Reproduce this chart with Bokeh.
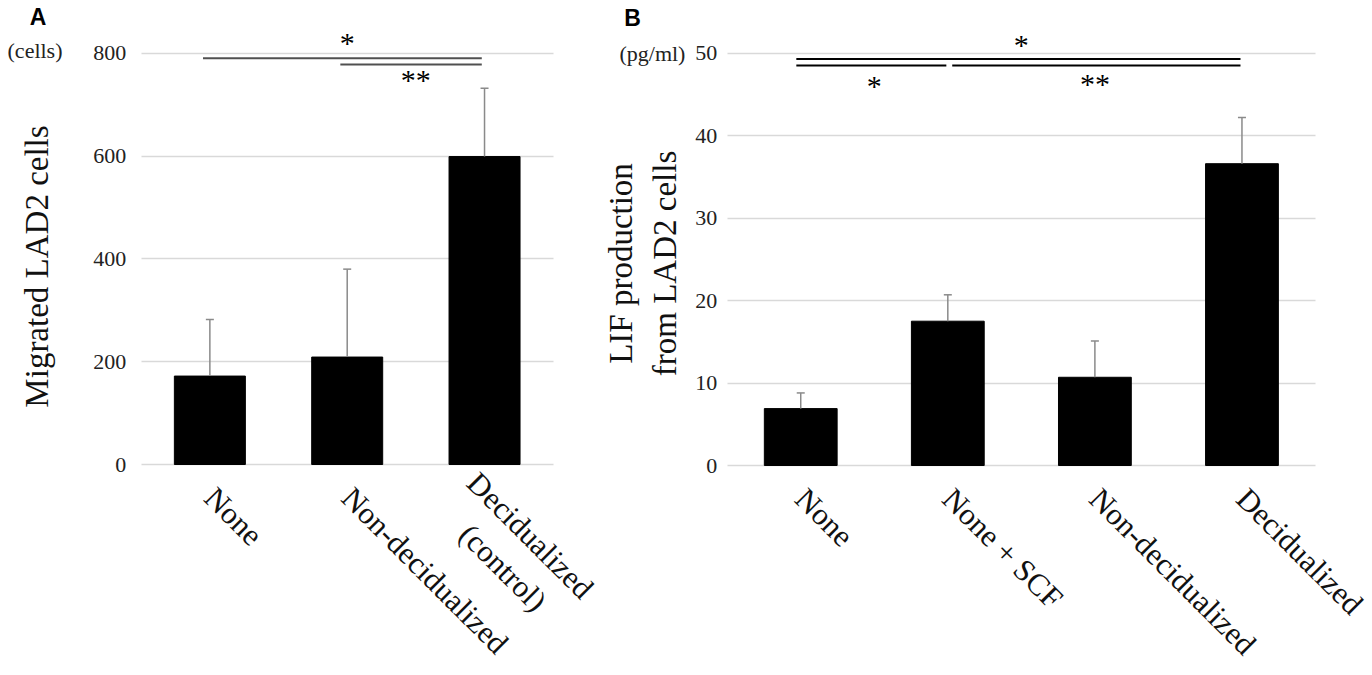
import math
from bokeh.plotting import figure
from bokeh.layouts import row
from bokeh.models import Range1d, FixedTicker, Label, ColumnDataSource, Grid
from bokeh.embed import file_html
from bokeh.resources import INLINE
from bokeh.core.properties import value

# ---------------- Panel A data ----------------
a_categories = ["None", "Non-decidualized",
                "Decidualized\n\u00a0\u00a0\u00a0\u00a0(control)"]
a_means = [172, 209, 599]
a_errors = [110, 171, 133]
a_ticks = [0, 200, 400, 600, 800]
a_sig_pairs = [(0, 2), (1, 2)]
a_sig_heights = [790, 778]
a_sig_marks = ["*", "**"]
a_sig_text_y = [821, 749]

# ---------------- Panel B data ----------------
b_categories = ["None", "None + SCF", "Non-decidualized", "Decidualized"]
b_means = [6.9, 17.5, 10.7, 36.6]
b_errors = [1.9, 3.2, 4.4, 5.6]
b_ticks = [0, 10, 20, 30, 40, 50]
b_sig_pairs = [(0, 3), (0, 1), (1, 3)]
b_sig_heights = [49.3, 48.5, 48.5]
b_sig_marks = ["*", "*", "**"]
b_sig_text_y = [51.1, 46.1, 46.3]

SERIF = "Liberation Serif"
SANS = "Liberation Sans"
HEIGHT = 675


def make_panel(cats, means, errs, ticks, width, frame_px, ylabel, unit,
               unit_xy, letter, letter_xy, pairs, heights, marks, mark_y,
               sig_color, start_off, end_off, bar_width, cap_size,
               tick_standoff, label_standoff, axis_bounds):
    """frame_px = (left, right, y_of_zero, y_of_top_tick) in canvas pixels."""
    n = len(cats)
    fl, fr, y0px, ytpx = frame_px
    xpu = (fr - fl) / n                      # pixels per category
    ypu = (y0px - ytpx) / ticks[-1]          # pixels per y unit
    x_start = -0.5 - fl / xpu
    x_end = n - 0.5 + (width - fr) / xpu
    y_end = ticks[-1] + ytpx / ypu
    y_start = -(HEIGHT - y0px) / ypu

    p = figure(width=width, height=HEIGHT, x_range=Range1d(x_start, x_end),
               y_range=Range1d(y_start, y_end), output_backend="svg",
               toolbar_location=None, min_border=0, min_border_left=0,
               min_border_right=0, min_border_top=0, min_border_bottom=0)
    p.outline_line_color = None
    p.background_fill_color = "white"
    p.border_fill_color = "white"

    # grid
    p.xgrid.grid_line_color = None
    if "cross_bounds" in Grid.properties():
        p.ygrid.ticker = FixedTicker(ticks=ticks)
        p.ygrid.bounds = (ticks[0], ticks[-1])
        p.ygrid.cross_bounds = (-0.5, n - 0.5)
        p.ygrid.grid_line_color = "#d9d9d9"
        p.ygrid.grid_line_width = 1.5
    else:
        p.ygrid.grid_line_color = None
        p.segment(x0=[-0.5] * len(ticks), x1=[n - 0.5] * len(ticks),
                  y0=ticks, y1=ticks, line_color="#d9d9d9", line_width=1.5)

    xs = list(range(n))
    src = ColumnDataSource(dict(x=xs, top=means,
                                up=[m + e for m, e in zip(means, errs)]))
    p.vbar(x="x", top="top", bottom=0, width=bar_width, source=src,
           fill_color="black", line_color="black")
    p.segment(x0="x", y0="top", x1="x", y1="up", source=src,
              line_color="#8a8a8a", line_width=1.5)
    p.scatter(x="x", y="up", source=src, marker="dash", size=cap_size,
              line_color="#8a8a8a", line_width=1.5)

    # significance bars
    x0s, x1s = [], []
    for (i, j) in pairs:
        x0s.append(i + (start_off[0] if i == 0 else start_off[1]))
        x1s.append(j + end_off)
    p.segment(x0=x0s, y0=heights, x1=x1s, y1=heights,
              line_color=sig_color, line_width=2)
    mids = [(i + j) / 2 for (i, j) in pairs]
    p.text(x=mids, y=mark_y, text=marks, text_font=value(SERIF),
           text_font_size="30px", text_align="center",
           text_baseline="middle", text_color="black")

    # y axis, drawn at the left edge of the bar area
    yax = p.yaxis[0]
    yax.fixed_location = -0.5
    yax.bounds = axis_bounds
    yax.ticker = FixedTicker(ticks=ticks)
    yax.axis_line_color = None
    yax.major_tick_line_color = None
    yax.minor_tick_line_color = None
    yax.major_label_text_font = SERIF
    yax.major_label_text_font_size = "22px"
    yax.major_label_text_color = "#222222"
    yax.major_label_standoff = tick_standoff
    yax.axis_label = ylabel
    yax.axis_label_text_font = SERIF
    yax.axis_label_text_font_size = "33px"
    yax.axis_label_text_font_style = "normal"
    yax.axis_label_text_color = "#111111"
    yax.axis_label_standoff = label_standoff

    # x axis, drawn at y = 0
    xax = p.xaxis[0]
    xax.fixed_location = 0
    xax.ticker = FixedTicker(ticks=xs)
    xax.major_label_overrides = {i: c for i, c in zip(xs, cats)}
    xax.axis_line_color = None
    xax.major_tick_line_color = None
    xax.minor_tick_line_color = None
    xax.major_label_text_font = SERIF
    xax.major_label_text_font_size = "31px"
    xax.major_label_text_color = "#111111"
    xax.major_label_orientation = -math.pi / 4
    xax.major_label_standoff = 22

    p.add_layout(Label(x=unit_xy[0], y=unit_xy[1], text=unit, text_font=SERIF,
                       text_font_size="22px", text_align="right",
                       text_baseline="middle", text_color="#222222"))
    p.add_layout(Label(x=letter_xy[0], y=letter_xy[1], text=letter,
                       text_font=SANS, text_font_size="23px",
                       text_font_style="bold", text_align="center",
                       text_baseline="top", text_color="black"))
    return p


pA = make_panel(a_categories, a_means, a_errors, a_ticks, 600,
                (140.7, 552.7, 464.0, 52.7), "Migrated LAD2 cells",
                "(cells)", (-1.073, 805), "A", (-1.251, 895),
                a_sig_pairs, a_sig_heights, a_sig_marks, a_sig_text_y,
                "#505050", (-0.05, -0.05), -0.02, 0.517, 8, 9, 36,
                (-30, 800))

pB = make_panel(b_categories, b_means, b_errors, b_ticks, 772,
                (126.7, 715.0, 465.0, 52.7),
                "LIF production\nfrom LAD2 cells", "(pg/ml)",
                (-0.784, 50), "B", (-1.144, 55.9),
                b_sig_pairs, b_sig_heights, b_sig_marks, b_sig_text_y,
                "black", (-0.03, 0.03), -0.01, 0.495, 8, 4, 10,
                (-1, 50))

layout = row(pA, pB)
open("out.html", "w").write(file_html(layout, INLINE))
